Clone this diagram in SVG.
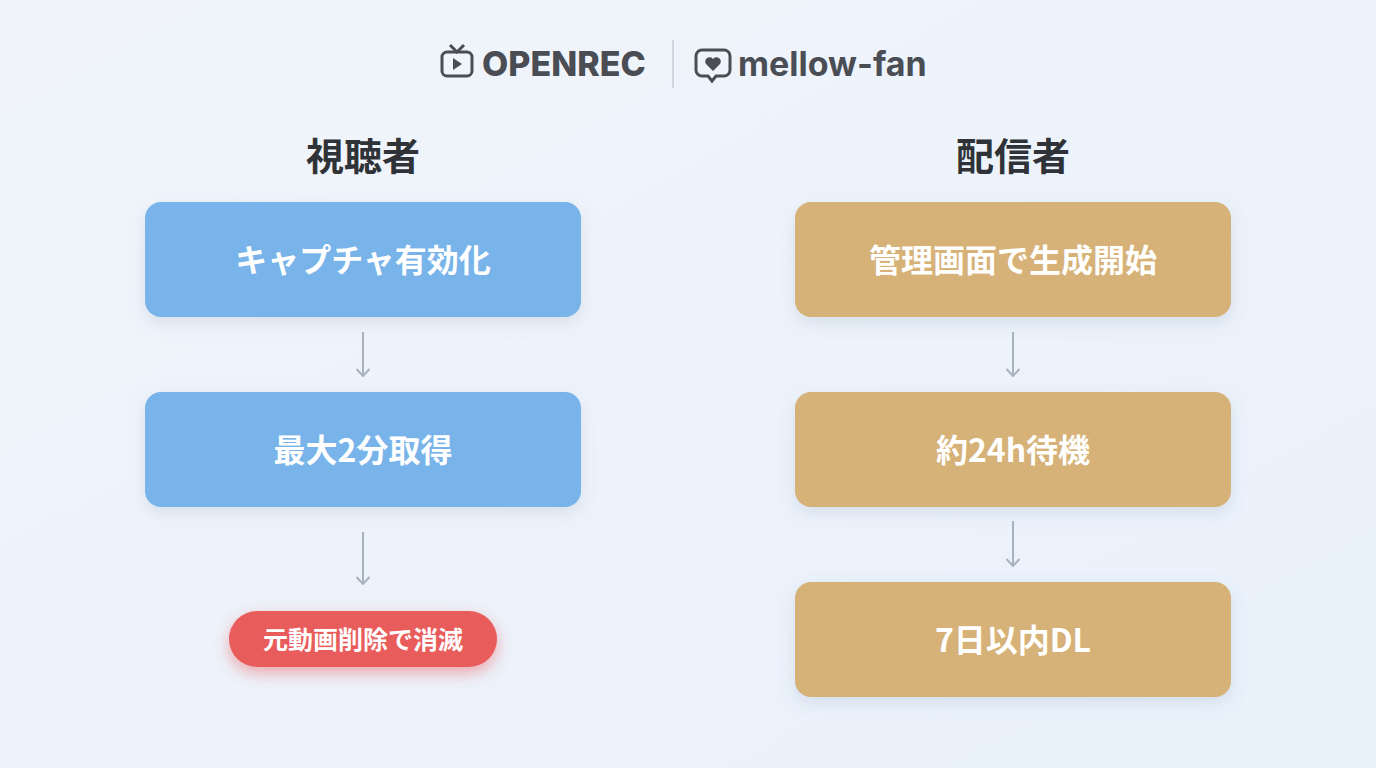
<svg xmlns="http://www.w3.org/2000/svg" width="1376" height="768" viewBox="0 0 1376 768">
<defs>
<linearGradient id="bg" x1="0" y1="0" x2="1" y2="1"><stop offset="0" stop-color="#f1f5fb"/><stop offset="1" stop-color="#e9f1fb"/></linearGradient>
<filter id="sh" x="-20%" y="-30%" width="140%" height="170%"><feDropShadow dx="0" dy="6" stdDeviation="8" flood-color="#6a7fa0" flood-opacity="0.18"/></filter>
<filter id="rsh" x="-30%" y="-60%" width="160%" height="240%"><feDropShadow dx="0" dy="6" stdDeviation="8" flood-color="#e84a4a" flood-opacity="0.45"/></filter>
<marker id="ah" viewBox="0 0 12 14" refX="11" refY="7" markerWidth="12" markerHeight="14" markerUnits="userSpaceOnUse" orient="auto"><path d="M4,0.5 L11,7 L4,13.5" fill="none" stroke="#a9b3bf" stroke-width="2"/></marker>
</defs>
<style>
text{font-family:"Noto Sans CJK JP","Noto Sans",sans-serif;font-weight:700}
.h{font-size:38px;fill:#2f3338;text-anchor:middle}
.t{font-size:32px;fill:#fff;text-anchor:middle}
.b{fill:#78b4ea}.o{fill:#d6b278}
.c{stroke:#a9b3bf;stroke-width:2;fill:none}
.logo{font-size:34px;fill:#4a4e54}
</style>
<rect width="1376" height="768" fill="url(#bg)"/>
<g id="logos">
<rect x="442" y="52" width="30" height="24" rx="5" fill="none" stroke="#4a4e54" stroke-width="3"/>
<path d="M450,45 L457,52 L464,45" fill="none" stroke="#4a4e54" stroke-width="3"/>
<path d="M453,58 L462,64 L453,70 Z" fill="#4a4e54"/>
<text x="482" y="76" class="logo" style="font-family:Inter,'Liberation Sans',sans-serif;font-weight:800">OPENREC</text>
<line x1="673" y1="40" x2="673" y2="88" stroke="#c8cdd4" stroke-width="1.5"/>
<path d="M702,50 h22 a6,6 0 0 1 6,6 v14 a6,6 0 0 1 -6,6 h-8 l-4,5 l-4,-5 h-6 a6,6 0 0 1 -6,-6 v-14 a6,6 0 0 1 6,-6 z" fill="none" stroke="#4a4e54" stroke-width="3"/>
<path d="M713,71 l-7,-7 a4,4 0 0 1 7,-5 a4,4 0 0 1 7,5 z" fill="#4a4e54"/>
<text x="738" y="76" class="logo" style="font-family:Inter,'Liberation Sans',sans-serif">mellow-fan</text>
</g>
<text class="h" x="363" y="170">視聴者</text>
<text class="h" x="1013" y="170">配信者</text>
<g id="connectors">
<line class="c" x1="363" y1="332" x2="363" y2="376" marker-end="url(#ah)"/>
<line class="c" x1="363" y1="532" x2="363" y2="584" marker-end="url(#ah)"/>
<line class="c" x1="1013" y1="332" x2="1013" y2="376" marker-end="url(#ah)"/>
<line class="c" x1="1013" y1="521" x2="1013" y2="566" marker-end="url(#ah)"/>
</g>
<g id="v1"><rect class="b" x="145" y="202" width="436" height="115" rx="16" filter="url(#sh)"/><text class="t" x="363" y="272">キャプチャ有効化</text></g>
<g id="v2"><rect class="b" x="145" y="392" width="436" height="115" rx="16" filter="url(#sh)"/><text class="t" x="363" y="462">最大2分取得</text></g>
<g id="v3"><rect x="229" y="611" width="268" height="56" rx="28" fill="#e95b5b" filter="url(#rsh)"/><text x="363" y="649" style="font-size:25px;fill:#fff;text-anchor:middle">元動画削除で消滅</text></g>
<g id="s1"><rect class="o" x="795" y="202" width="436" height="115" rx="16" filter="url(#sh)"/><text class="t" x="1013" y="272">管理画面で生成開始</text></g>
<g id="s2"><rect class="o" x="795" y="392" width="436" height="115" rx="16" filter="url(#sh)"/><text class="t" x="1013" y="462">約24h待機</text></g>
<g id="s3"><rect class="o" x="795" y="582" width="436" height="115" rx="16" filter="url(#sh)"/><text class="t" x="1013" y="652">7日以内DL</text></g>
</svg>
